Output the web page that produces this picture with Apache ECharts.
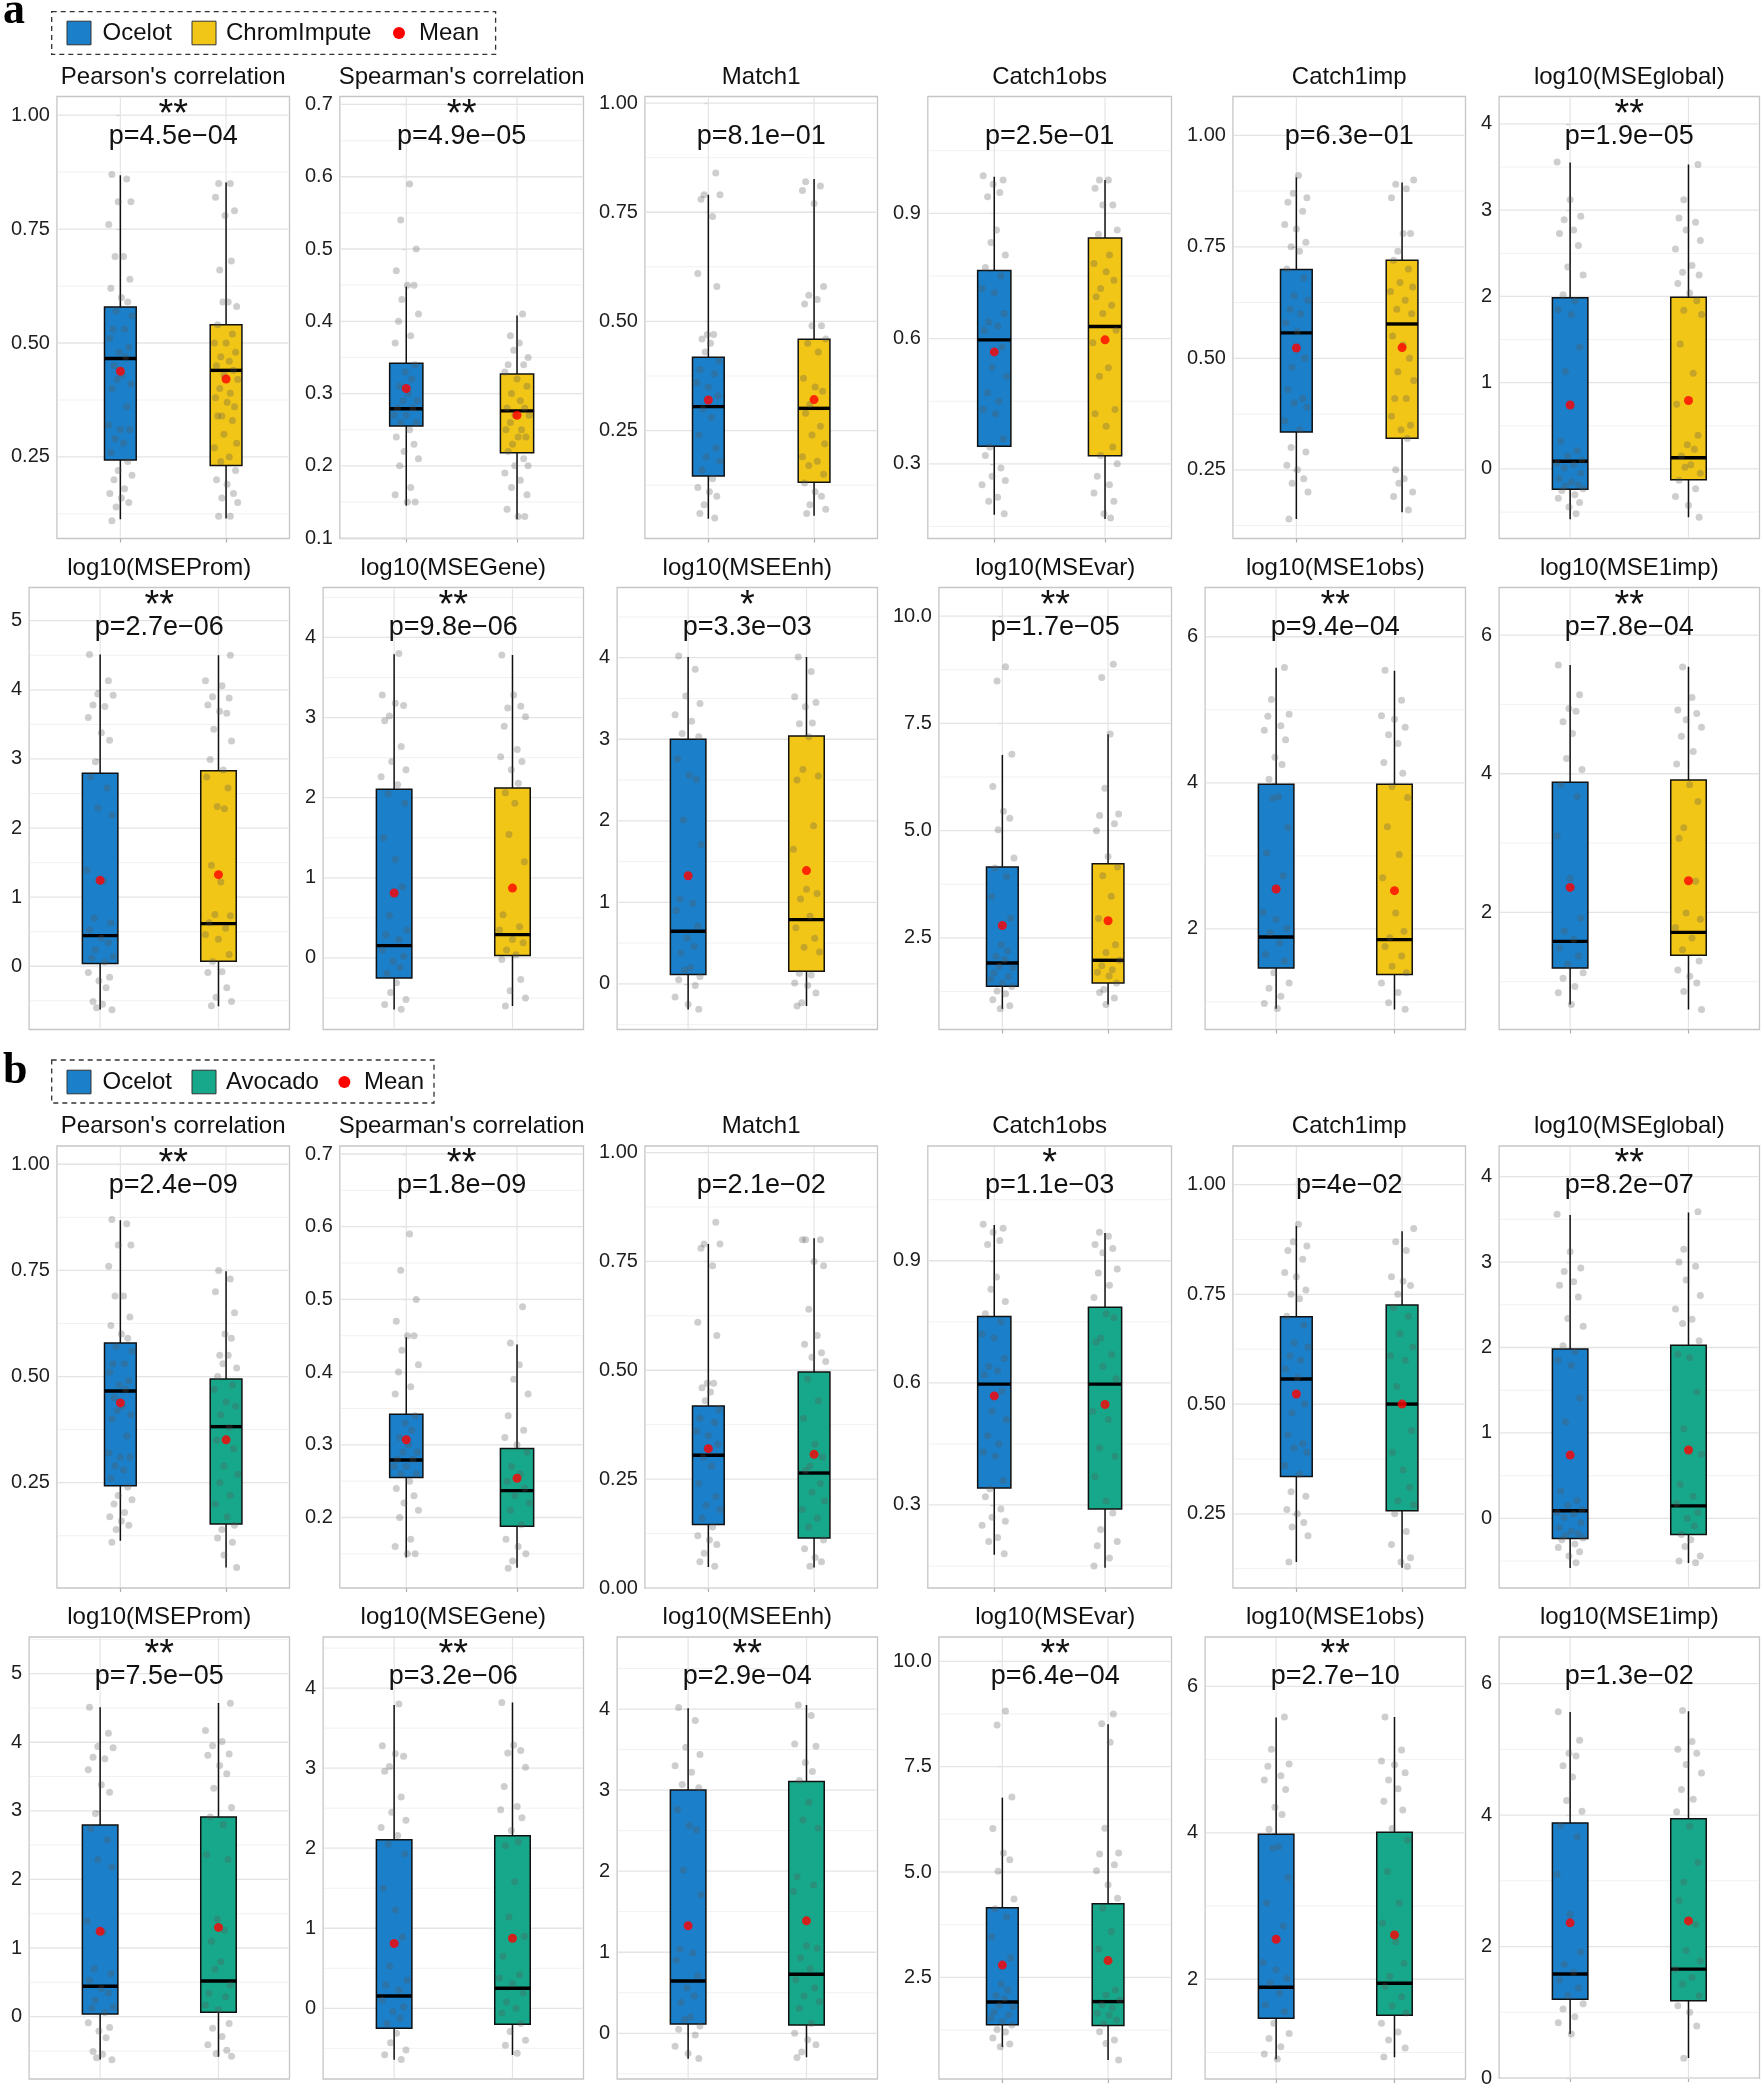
<!DOCTYPE html>
<html><head><meta charset="utf-8">
<script src="https://cdn.jsdelivr.net/npm/echarts@6/dist/echarts.min.js"></script>
<style>html,body{margin:0;padding:0;background:#fff;}#c{width:1764px;height:2088px;}</style>
</head><body><div id="c"></div>
<script>
// ---------------- data ----------------
const TITLES = ["Pearson's correlation","Spearman's correlation","Match1","Catch1obs","Catch1imp","log10(MSEglobal)",
  "log10(MSEProm)","log10(MSEGene)","log10(MSEEnh)","log10(MSEvar)","log10(MSE1obs)","log10(MSE1imp)"];
const METHODS_A = ["Ocelot","ChromImpute"];
const METHODS_B = ["Ocelot","Avocado"];

const PVAL_A = ["p=4.5e\u221204","p=4.9e\u221205","p=8.1e\u221201","p=2.5e\u221201","p=6.3e\u221201","p=1.9e\u221205",
  "p=2.7e\u221206","p=9.8e\u221206","p=3.3e\u221203","p=1.7e\u221205","p=9.4e\u221204","p=7.8e\u221204"];
const SIG_A = ["**","**","","","","**","**","**","*","**","**","**"];
const PVAL_B = ["p=2.4e\u221209","p=1.8e\u221209","p=2.1e\u221202","p=1.1e\u221203","p=4e\u221202","p=8.2e\u221207",
  "p=7.5e\u221205","p=3.2e\u221206","p=2.9e\u221204","p=6.4e\u221204","p=2.7e\u221210","p=1.3e\u221202"];
const SIG_B = ["**","**","","*","","**","**","**","**","**","**",""];

// box statistics (whisker low, Q1, median, Q3, whisker high, mean)
const OCELOT_LO   = [0.113,0.145,0.048,0.178,0.140,-0.582,-0.626,-0.644,-0.314,0.846,0.907,0.670];
const OCELOT_Q1   = [0.243,0.255,0.146,0.342,0.335,-0.236,0.039,-0.249,0.114,1.373,1.467,1.198];
const OCELOT_MED  = [0.466,0.279,0.305,0.597,0.557,0.090,0.443,0.154,0.645,1.916,1.890,1.582];
const OCELOT_Q3   = [0.579,0.342,0.418,0.763,0.699,1.984,2.794,2.106,3.000,4.150,3.980,3.878];
const OCELOT_HI   = [0.868,0.448,0.790,0.988,0.906,3.552,4.510,3.790,4.010,6.765,5.576,5.568];
const OCELOT_MEAN = [0.438,0.307,0.320,0.568,0.523,0.741,1.243,0.810,1.327,2.790,2.547,2.360];

const CHROM_LO   = [0.115,0.126,0.055,0.168,0.155,-0.560,-0.580,-0.600,-0.270,0.947,0.898,0.598];
const CHROM_Q1   = [0.231,0.218,0.132,0.319,0.321,-0.126,0.072,0.029,0.155,1.450,1.376,1.381];
const CHROM_MED  = [0.440,0.276,0.301,0.629,0.577,0.130,0.617,0.291,0.788,1.978,1.854,1.712];
const CHROM_Q3   = [0.540,0.327,0.459,0.841,0.720,1.990,2.830,2.120,3.040,4.228,3.980,3.911];
const CHROM_HI   = [0.852,0.408,0.826,0.980,0.894,3.530,4.500,3.780,4.010,7.246,5.535,5.544];
const CHROM_MEAN = [0.421,0.270,0.321,0.597,0.524,0.794,1.325,0.872,1.390,2.900,2.524,2.456];

const AVOCADO_LO   = [0.050,0.131,0.047,0.146,0.127,-0.522,-0.584,-0.583,-0.296,0.538,0.934,0.304];
const AVOCADO_Q1   = [0.153,0.188,0.115,0.290,0.257,-0.188,0.063,-0.200,0.103,1.354,1.510,1.175];
const AVOCADO_MED  = [0.382,0.237,0.264,0.597,0.500,0.146,0.520,0.250,0.728,1.924,1.945,1.656];
const AVOCADO_Q3   = [0.494,0.295,0.496,0.786,0.726,2.027,2.909,2.154,3.107,4.244,4.009,3.944];
const AVOCADO_HI   = [0.748,0.438,0.803,0.968,0.894,3.582,4.572,3.820,4.050,8.510,5.580,5.580];
const AVOCADO_MEAN = [0.351,0.254,0.307,0.547,0.500,0.800,1.300,0.875,1.387,2.898,2.606,2.390];

// individual observations (one list per metric)
const OCELOT_POINTS = [
 [0.87,0.86,0.81,0.81,0.76,0.69,0.69,0.64,0.62,0.60,0.59,0.57,0.56,0.53,0.53,0.51,0.49,0.48,0.47,0.45,0.43,0.42,0.41,0.40,0.36,0.32,0.31,0.31,0.29,0.28,0.26,0.24,0.22,0.21,0.20,0.18,0.17,0.16,0.15,0.14,0.11],
 [0.59,0.54,0.50,0.47,0.45,0.45,0.43,0.41,0.40,0.38,0.37,0.34,0.33,0.32,0.31,0.30,0.29,0.29,0.28,0.28,0.27,0.27,0.26,0.26,0.25,0.24,0.23,0.22,0.21,0.20,0.17,0.16,0.15,0.15],
 [0.84,0.79,0.79,0.78,0.74,0.61,0.58,0.47,0.47,0.46,0.45,0.43,0.41,0.39,0.38,0.36,0.35,0.33,0.30,0.28,0.24,0.21,0.19,0.18,0.16,0.14,0.12,0.11,0.10,0.08,0.06,0.05],
 [0.99,0.98,0.97,0.95,0.94,0.86,0.83,0.80,0.77,0.75,0.72,0.71,0.66,0.64,0.63,0.62,0.58,0.53,0.51,0.47,0.45,0.43,0.42,0.36,0.34,0.32,0.29,0.27,0.26,0.25,0.22,0.21,0.18],
 [0.91,0.87,0.86,0.85,0.83,0.80,0.79,0.76,0.75,0.74,0.70,0.68,0.64,0.63,0.61,0.60,0.58,0.56,0.50,0.48,0.43,0.41,0.40,0.39,0.36,0.34,0.30,0.29,0.26,0.25,0.23,0.22,0.20,0.14],
 [3.56,3.12,2.93,2.89,2.77,2.73,2.59,2.34,2.25,2.02,1.95,1.85,1.79,1.41,1.13,0.32,0.21,0.15,0.10,0.07,0.05,0.01,-0.05,-0.11,-0.15,-0.18,-0.20,-0.23,-0.25,-0.30,-0.34,-0.39,-0.44,-0.52],
 [4.51,4.13,3.94,3.92,3.78,3.76,3.60,3.38,3.27,2.96,2.74,2.58,2.29,2.18,1.39,1.23,0.70,0.63,0.53,0.41,0.34,0.24,0.14,0.12,0.06,-0.09,-0.16,-0.21,-0.31,-0.51,-0.55,-0.60,-0.63],
 [3.80,3.28,3.18,3.15,3.02,2.96,2.64,2.45,2.35,2.26,2.16,2.05,1.93,1.50,1.23,0.89,0.53,0.35,0.29,0.23,0.10,0.02,-0.04,-0.12,-0.19,-0.31,-0.43,-0.52,-0.58,-0.64],
 [4.02,3.86,3.53,3.44,3.30,3.22,3.07,3.03,2.76,2.56,2.51,2.01,1.71,1.04,0.99,0.90,0.71,0.56,0.46,0.38,0.20,0.17,0.09,0.05,-0.02,-0.16,-0.25,-0.31],
 [8.82,8.49,6.78,6.03,5.45,5.29,5.02,4.36,4.13,3.93,3.47,2.96,2.34,2.20,2.07,1.99,1.84,1.80,1.68,1.60,1.53,1.45,1.37,1.26,1.20,1.06,0.92,0.85],
 [5.58,5.14,4.94,4.91,4.78,4.72,4.59,4.35,4.25,4.05,3.81,3.79,3.39,3.04,2.73,2.23,2.13,2.01,1.95,1.81,1.65,1.56,1.40,1.26,1.19,1.08,0.98,0.91],
 [5.57,5.14,4.94,4.90,4.75,4.58,4.22,4.06,3.84,3.67,3.10,2.49,1.92,1.73,1.61,1.49,1.37,1.25,1.13,1.05,0.93,0.84,0.67]
];
const CHROM_POINTS = [
 [0.85,0.85,0.82,0.79,0.78,0.68,0.66,0.59,0.59,0.58,0.54,0.52,0.50,0.50,0.48,0.47,0.46,0.45,0.44,0.43,0.42,0.40,0.39,0.38,0.37,0.36,0.34,0.34,0.33,0.30,0.28,0.27,0.25,0.24,0.22,0.20,0.19,0.17,0.16,0.15,0.12,0.12],
 [0.41,0.38,0.37,0.36,0.35,0.34,0.34,0.33,0.32,0.31,0.30,0.29,0.28,0.28,0.27,0.27,0.26,0.25,0.25,0.24,0.24,0.23,0.22,0.21,0.20,0.20,0.19,0.18,0.17,0.16,0.14,0.13,0.13],
 [0.82,0.81,0.80,0.77,0.58,0.56,0.55,0.54,0.49,0.49,0.46,0.45,0.43,0.37,0.35,0.34,0.31,0.29,0.26,0.24,0.22,0.19,0.18,0.17,0.15,0.13,0.11,0.10,0.08,0.07,0.06],
 [0.98,0.98,0.96,0.92,0.92,0.86,0.85,0.80,0.78,0.76,0.74,0.72,0.70,0.68,0.66,0.62,0.59,0.53,0.51,0.43,0.42,0.39,0.34,0.32,0.30,0.27,0.25,0.23,0.21,0.18,0.17],
 [0.90,0.89,0.88,0.86,0.78,0.78,0.74,0.72,0.70,0.67,0.66,0.65,0.63,0.61,0.60,0.55,0.53,0.50,0.47,0.45,0.41,0.41,0.37,0.35,0.34,0.32,0.25,0.23,0.22,0.20,0.19,0.16],
 [3.53,3.12,2.91,2.86,2.77,2.65,2.55,2.36,2.28,2.25,2.15,2.04,1.95,1.84,1.79,1.45,1.11,0.75,0.39,0.28,0.23,0.15,0.05,0.02,-0.05,-0.13,-0.23,-0.32,-0.42,-0.56],
 [4.50,4.13,4.06,3.90,3.88,3.78,3.69,3.66,3.43,3.26,2.99,2.84,2.74,2.58,2.31,2.28,1.46,1.22,0.75,0.73,0.63,0.55,0.46,0.39,0.17,0.07,-0.08,-0.09,-0.31,-0.45,-0.51,-0.57],
 [3.78,3.28,3.14,3.12,3.01,2.89,2.60,2.51,2.45,2.35,2.18,2.06,1.93,1.54,1.20,0.54,0.39,0.35,0.23,0.19,0.10,0.04,-0.02,-0.27,-0.41,-0.50,-0.60],
 [4.01,3.83,3.52,3.45,3.40,3.20,3.19,3.03,2.63,2.55,2.50,1.94,1.65,1.16,1.11,1.04,0.83,0.69,0.56,0.45,0.39,0.13,0.11,0.01,-0.02,-0.11,-0.23,-0.27],
 [8.88,8.57,7.25,5.99,5.39,5.35,5.16,5.00,4.40,4.15,3.95,3.47,2.95,2.34,2.16,1.98,1.85,1.76,1.70,1.61,1.45,1.30,1.23,1.10,0.95],
 [5.54,5.13,4.92,4.87,4.76,4.66,4.54,4.28,4.13,3.95,3.80,3.40,3.02,2.70,2.22,1.97,1.88,1.76,1.63,1.49,1.40,1.26,1.13,0.99,0.90],
 [5.54,5.10,4.92,4.87,4.78,4.67,4.54,4.32,4.14,3.84,3.60,3.22,3.07,2.45,1.99,1.90,1.78,1.63,1.46,1.30,1.17,1.08,0.98,0.86,0.60]
];
const AVOCADO_POINTS = [
 [0.75,0.73,0.70,0.65,0.60,0.59,0.55,0.55,0.53,0.52,0.50,0.48,0.47,0.44,0.43,0.41,0.38,0.35,0.33,0.29,0.27,0.25,0.22,0.20,0.17,0.15,0.14,0.12,0.11,0.08,0.05],
 [0.49,0.44,0.41,0.39,0.37,0.34,0.32,0.31,0.30,0.29,0.27,0.26,0.25,0.24,0.23,0.22,0.21,0.19,0.17,0.16,0.15,0.14,0.13],
 [0.80,0.80,0.80,0.75,0.74,0.64,0.58,0.56,0.54,0.53,0.52,0.48,0.43,0.39,0.33,0.30,0.28,0.27,0.24,0.22,0.20,0.18,0.16,0.14,0.11,0.09,0.07,0.06,0.05],
 [0.97,0.96,0.94,0.93,0.92,0.88,0.87,0.84,0.81,0.77,0.76,0.71,0.70,0.67,0.64,0.61,0.53,0.51,0.44,0.42,0.37,0.31,0.28,0.24,0.21,0.20,0.17,0.15],
 [0.90,0.87,0.85,0.79,0.78,0.77,0.75,0.72,0.70,0.66,0.63,0.61,0.60,0.54,0.44,0.39,0.35,0.31,0.28,0.27,0.25,0.21,0.18,0.15,0.14,0.13],
 [3.59,3.15,3.00,2.95,2.79,2.61,2.45,2.33,2.28,2.08,1.92,1.88,1.48,1.05,0.75,0.40,0.26,0.17,0.07,0.00,-0.09,-0.19,-0.25,-0.33,-0.44,-0.50,-0.52],
 [4.57,4.17,4.01,3.95,3.83,3.81,3.66,3.54,3.33,3.05,2.91,2.80,2.36,2.29,1.42,1.26,1.10,0.80,0.69,0.46,0.34,0.29,0.17,0.10,-0.10,-0.17,-0.29,-0.41,-0.49,-0.54,-0.58],
 [3.82,3.29,3.22,3.19,3.01,2.77,2.52,2.48,2.38,2.22,2.08,2.03,1.58,1.14,0.90,0.65,0.42,0.38,0.31,0.19,0.08,0.00,-0.06,-0.19,-0.29,-0.40,-0.46,-0.56],
 [4.05,3.92,3.57,3.54,3.34,3.23,3.12,2.85,2.63,2.53,1.93,1.83,1.75,1.08,1.05,0.93,0.80,0.66,0.56,0.46,0.39,0.31,0.12,0.00,-0.08,-0.14,-0.23,-0.30],
 [8.75,8.52,8.08,6.04,5.45,5.43,5.17,5.03,4.70,4.38,4.14,3.59,3.17,2.20,2.08,1.96,1.85,1.77,1.65,1.60,1.49,1.40,1.21,1.01,0.93,0.54],
 [5.58,5.13,4.98,4.93,4.82,4.72,4.60,4.43,4.31,4.06,3.90,3.47,3.04,2.77,2.51,2.22,2.04,1.90,1.76,1.63,1.54,1.40,1.28,1.17,1.06,0.94],
 [5.59,5.12,5.00,4.94,4.77,4.64,4.39,4.24,4.05,3.83,3.28,2.98,2.70,2.34,1.94,1.78,1.66,1.53,1.43,1.25,1.10,1.00,0.79,0.30]
];

// axis ranges and tick steps
const YMIN_A = [0.071,0.0995,0.003,0.121,0.096,-0.806,-0.915,-0.893,-0.559,0.365,0.624,0.310];
const YMAX_A = [1.041,0.711,1.015,1.180,1.087,4.318,5.480,4.623,4.861,10.667,6.674,6.687];
const YMIN_B = [0.002,0.103,0.000,0.096,0.081,-0.815,-0.910,-0.883,-0.564,0.087,0.638,0.000];
const YMAX_B = [1.043,0.711,1.015,1.182,1.088,4.359,5.535,4.638,4.889,10.578,6.674,6.709];
const TICK_STEP = [0.25,0.1,0.25,0.3,0.25,1,1,1,1,2.5,2,2];
const TICK_DEC  = [2,1,2,1,2,0,0,0,0,1,0,0];

// fixed (hand-written) horizontal jitter offsets, in category units
const JITTER = [-0.08,0.06,-0.02,0.10,-0.11,0.03,-0.05,0.09,-0.09,0.01,0.07,-0.04,0.11,-0.07,0.04,-0.10,0.08,-0.01,0.05,-0.06,
                0.02,-0.03,0.10,-0.08,0.06,-0.11,0.00,0.09,-0.05,0.03,-0.09,0.07,-0.02,0.11,-0.06,0.04,-0.10,0.01,0.08,-0.04];

// ---------------- style / layout ----------------
const COL_OCELOT = '#1B7FC9', COL_CHROM = '#F2C616', COL_AVOCADO = '#17A88B';
const FONT = '"Liberation Sans", Arial, Helvetica, sans-serif';
const ROW_TOP = [96.5, 587.5, 1146, 1637];
const PANEL_H = 442, CELL_W = 294;

const mctx = document.createElement('canvas').getContext('2d');
function textW(s, size){ mctx.font = size + 'px ' + FONT; return mctx.measureText(s).width; }

const SECTIONS = [
  {methods: METHODS_A, color: COL_CHROM, lo: CHROM_LO, q1: CHROM_Q1, med: CHROM_MED, q3: CHROM_Q3, hi: CHROM_HI, mean: CHROM_MEAN,
   pts: CHROM_POINTS, ymin: YMIN_A, ymax: YMAX_A, pval: PVAL_A, sig: SIG_A},
  {methods: METHODS_B, color: COL_AVOCADO, lo: AVOCADO_LO, q1: AVOCADO_Q1, med: AVOCADO_MED, q3: AVOCADO_Q3, hi: AVOCADO_HI, mean: AVOCADO_MEAN,
   pts: AVOCADO_POINTS, ymin: YMIN_B, ymax: YMAX_B, pval: PVAL_B, sig: SIG_B}
];

const option = {animation: false, backgroundColor: '#fff', grid: [], xAxis: [], yAxis: [], series: [], graphic: {elements: []}};
const G = option.graphic.elements;

function jitterPts(cat, vals, seed){
  return vals.map((v, j) => [cat + JITTER[(j + seed) % JITTER.length], v]);
}

let gi = 0;
SECTIONS.forEach((S, s) => {
  for (let r = 0; r < 2; r++) {
    for (let c = 0; c < 6; c++) {
      const m = r * 6 + c;
      const yMin = S.ymin[m], yMax = S.ymax[m];
      const step = TICK_STEP[m], dec = TICK_DEC[m];
      const majors = [], minors = [];
      for (let k = Math.ceil(yMin / step - 1e-6); k <= Math.floor(yMax / step + 1e-6); k++) majors.push(+(k * step).toFixed(6));
      for (let k = Math.floor(yMin / step) - 1; k <= Math.ceil(yMax / step); k++) {
        const v = +((k + 0.5) * step).toFixed(6);
        if (v > yMin && v < yMax) minors.push(v);
      }
      const lw = Math.max(...majors.map(v => textW(v.toFixed(dec), 20)));
      const left = c * CELL_W + 11 + lw + 7;
      const rightEdge = c * CELL_W + 289.5;
      const width = rightEdge - left;
      const top = ROW_TOP[s * 2 + r];

      option.grid.push({left: left, top: top, width: width, height: PANEL_H, show: true,
        borderColor: '#C6C6C6', borderWidth: 1.3, backgroundColor: 'transparent'});
      option.xAxis.push({gridIndex: gi, type: 'value', min: -0.6, max: 1.6,
        axisLine: {show: false}, splitLine: {show: false}, axisLabel: {show: false},
        axisTick: {show: true, customValues: [0, 1], length: 4, lineStyle: {color: '#AFAFAF', width: 1.2}}});
      option.yAxis.push({gridIndex: gi, type: 'value', min: yMin, max: yMax,
        axisLine: {show: false}, splitLine: {show: false},
        axisTick: {show: true, customValues: majors, length: 4, lineStyle: {color: '#AFAFAF', width: 1.2}},
        axisLabel: {customValues: majors, margin: 7, fontSize: 20, fontFamily: FONT, color: '#1e1e1e',
          formatter: v => Number(v).toFixed(dec)}});

      // gridlines
      const gridData = majors.map(v => [0, v]).concat(minors.map(v => [1, v])).concat([[2, 0], [2, 1]]);
      option.series.push({type: 'custom', xAxisIndex: gi, yAxisIndex: gi, z: 1, silent: true,
        data: gridData,
        renderItem: (params, api) => {
          const cs = params.coordSys, kind = api.value(0), v = api.value(1);
          if (kind === 2) {
            const x = api.coord([v, yMin])[0];
            return {type: 'line', shape: {x1: x, y1: cs.y + 1, x2: x, y2: cs.y + cs.height - 1}, style: {stroke: '#E4E4E4', lineWidth: 1.2}};
          }
          const y = api.coord([0, v])[1];
          return {type: 'line', shape: {x1: cs.x + 1, y1: y, x2: cs.x + cs.width - 1, y2: y},
            style: {stroke: kind === 0 ? '#E4E4E4' : '#F1F1F1', lineWidth: kind === 0 ? 1.3 : 1}};
        }});

      // boxes
      const boxColors = [COL_OCELOT, S.color];
      option.series.push({type: 'custom', xAxisIndex: gi, yAxisIndex: gi, z: 2, silent: true,
        encode: {x: 0, y: [1, 2, 3, 4, 5]},
        data: [[0, OCELOT_LO[m], OCELOT_Q1[m], OCELOT_MED[m], OCELOT_Q3[m], OCELOT_HI[m]],
               [1, S.lo[m], S.q1[m], S.med[m], S.q3[m], S.hi[m]]],
        renderItem: (params, api) => {
          const x = api.value(0);
          const pLo = api.coord([x, api.value(1)]), pQ1 = api.coord([x, api.value(2)]),
                pMed = api.coord([x, api.value(3)]), pQ3 = api.coord([x, api.value(4)]), pHi = api.coord([x, api.value(5)]);
          const hw = api.size([0.3, 0])[0] / 2, cx = pLo[0];
          return {type: 'group', children: [
            {type: 'line', shape: {x1: cx, y1: pHi[1], x2: cx, y2: pLo[1]}, style: {stroke: '#111', lineWidth: 1.5}},
            {type: 'rect', shape: {x: cx - hw, y: pQ3[1], width: 2 * hw, height: pQ1[1] - pQ3[1]},
              style: {fill: boxColors[x], stroke: '#111', lineWidth: 1.5}},
            {type: 'line', shape: {x1: cx - hw, y1: pMed[1], x2: cx + hw, y2: pMed[1]}, style: {stroke: '#000', lineWidth: 3.4}}
          ]};
        }});

      // jittered observations
      option.series.push({type: 'scatter', xAxisIndex: gi, yAxisIndex: gi, z: 3, silent: true,
        symbolSize: 7, itemStyle: {color: 'rgba(85,85,85,0.36)'},
        data: jitterPts(0, OCELOT_POINTS[m], m * 5).concat(jitterPts(1, S.pts[m], m * 5 + 13))});
      // means
      option.series.push({type: 'scatter', xAxisIndex: gi, yAxisIndex: gi, z: 4, silent: true,
        symbolSize: 9, itemStyle: {color: '#FF0000'},
        data: [[0, OCELOT_MEAN[m]], [1, S.mean[m]]]});

      // texts
      const cx = left + width / 2;
      G.push({type: 'text', x: cx, y: top - 19.5, style: {text: TITLES[m], font: '24px ' + FONT, fill: '#111', align: 'center', verticalAlign: 'middle'}});
      if (S.sig[m]) G.push({type: 'text', x: cx, y: top + 19, z: 10, style: {text: S.sig[m], font: '38px ' + FONT, fill: '#111', align: 'center', verticalAlign: 'middle'}});
      G.push({type: 'text', x: cx, y: top + 40, z: 10, style: {text: S.pval[m], font: '27px ' + FONT, fill: '#111', align: 'center', verticalAlign: 'middle'}});
      gi++;
    }
  }
});

// legends and panel letters
function legend(y0, h, boxRight, items, labelY, letter, letterY){
  G.push({type: 'text', x: 3, y: letterY, style: {text: letter, font: 'bold 44px "Liberation Serif", "Times New Roman", serif', fill: '#000', align: 'left', verticalAlign: 'middle'}});
  G.push({type: 'rect', shape: {x: 51.7, y: y0, width: boxRight - 51.7, height: h}, style: {fill: 'none', stroke: '#333', lineWidth: 1.3, lineDash: [5, 4]}});
  items.forEach(it => {
    if (it.kind === 'sq') G.push({type: 'rect', shape: {x: it.x, y: labelY - 11.8, width: 24, height: 23.6}, style: {fill: it.color, stroke: '#333', lineWidth: 1}});
    else G.push({type: 'circle', shape: {cx: it.x + 6, cy: labelY, r: 6}, style: {fill: '#FF0000'}});
    G.push({type: 'text', x: it.tx, y: labelY, style: {text: it.label, font: '24px ' + FONT, fill: '#111', align: 'left', verticalAlign: 'middle'}});
  });
}
legend(11.6, 42.8, 495.6, [
  {kind: 'sq', x: 67, color: COL_OCELOT, tx: 102.6, label: METHODS_A[0]},
  {kind: 'sq', x: 192, color: COL_CHROM, tx: 226, label: METHODS_A[1]},
  {kind: 'dot', x: 393, tx: 419, label: 'Mean'}], 33, 'a', 11.6);
legend(1060, 43, 434, [
  {kind: 'sq', x: 67, color: COL_OCELOT, tx: 102.6, label: METHODS_B[0]},
  {kind: 'sq', x: 192, color: COL_AVOCADO, tx: 226, label: METHODS_B[1]},
  {kind: 'dot', x: 338.4, tx: 364, label: 'Mean'}], 1082, 'b', 1071.6);

const chart = echarts.init(document.getElementById('c'), null, {width: 1764, height: 2088});
chart.setOption(option);
</script>
</body></html>
